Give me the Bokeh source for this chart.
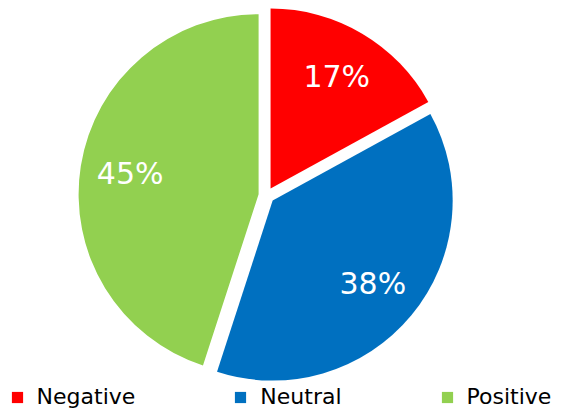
import numpy as np
from bokeh.plotting import figure
from bokeh.models import ColumnDataSource, Range1d, Legend, LegendItem
from bokeh.embed import file_html
from bokeh.resources import INLINE
from bokeh.core.properties import value

# ---- data ----
categories = ["Negative", "Neutral", "Positive"]
shares = [17, 38, 45]
labels = ["17%", "38%", "45%"]
colors = ["#FF0000", "#0070C0", "#92D050"]

# ---- layout ----
W, H = 561, 411
CX, CY = 266, 216
R = 180
EXPLODE = 8
LABEL_R = 130

fr = np.array(shares, dtype=float) / sum(shares)
cum = np.cumsum(fr)
start = np.pi / 2 - 2 * np.pi * (cum - fr)
end = np.pi / 2 - 2 * np.pi * cum
mid = (start + end) / 2

src = ColumnDataSource(dict(
    cat=categories,
    label=labels,
    color=colors,
    start=start,
    end=end,
    x=CX + EXPLODE * np.cos(mid),
    y=CY + EXPLODE * np.sin(mid),
    lx=CX + (EXPLODE + LABEL_R) * np.cos(mid),
    ly=CY + (EXPLODE + LABEL_R) * np.sin(mid),
))

p = figure(width=W, height=H, output_backend="svg", toolbar_location=None,
           x_range=Range1d(0, W), y_range=Range1d(0, H),
           x_axis_type=None, y_axis_type=None, min_border=0,
           outline_line_color=None)
p.grid.visible = False
p.background_fill_color = "white"
p.border_fill_color = "white"

wr = p.wedge(x="x", y="y", radius=R, start_angle="start", end_angle="end",
             direction="clock", fill_color="color", line_color=None, source=src)

p.text(x="lx", y="ly", text="label", source=src, text_color="white",
       text_font=value("DejaVu Sans"), text_font_size="30px",
       text_align="center", text_baseline="middle")

legend = Legend(items=[LegendItem(label=c, renderers=[wr], index=i)
                       for i, c in enumerate(categories)],
                orientation="horizontal", location=(9.6, 2),
                padding=0, margin=0, spacing=98,
                glyph_width=14, glyph_height=14, label_standoff=13,
                label_text_font="DejaVu Sans", label_text_font_size="22px",
                label_text_color="black",
                border_line_color=None, background_fill_alpha=0)
p.add_layout(legend)

open("out.html", "w").write(file_html(p, INLINE))
